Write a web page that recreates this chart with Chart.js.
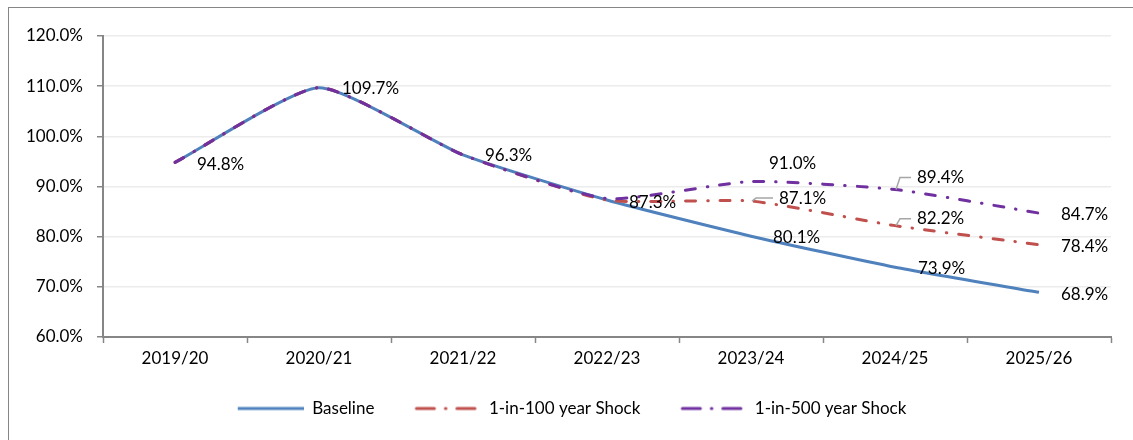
<!DOCTYPE html>
<html>
<head>
<meta charset="utf-8">
<title>Scenario chart</title>
<script src="https://cdn.jsdelivr.net/npm/chart.js@4.4.0/dist/chart.umd.min.js"></script>
<style>
  html, body { margin: 0; padding: 0; background: #fff; overflow: hidden; }
  #frame {
    position: absolute; left: 8px; top: 7px;
    width: 1200px; height: 500px;
    border: 1px solid #868686;
  }
  #chart { position: absolute; left: 0; top: 0; }
</style>
</head>
<body>
<div id="frame"></div>
<canvas id="chart" width="1133" height="440"></canvas>
<script>
// Data
const YEARS = ['2019/20', '2020/21', '2021/22', '2022/23', '2023/24', '2024/25', '2025/26'];
const BASELINE = [94.8, 109.7, 96.3, 87.3, 80.1, 73.9, 68.9];
const SHOCK_100 = [94.8, 109.7, 96.3, 87.3, 87.1, 82.2, 78.4];
const SHOCK_500 = [94.8, 109.7, 96.3, 87.6, 91.0, 89.4, 84.7];
const Y_MIN = 60;
const Y_MAX = 120;
const Y_STEP = 10;

// Which points carry a value label, and where it sits relative to the point
// [index, dx, dy, leader]
const LABELS = [
  [[0, 22, 2], [1, 23, 1], [2, 22, 1], [3, 22, 2], [4, 22, 1], [5, 23, 1], [6, 22, 2.5]],
  [[4, 28, -3, true], [5, 22, -7, true], [6, 22, 2]],
  [[4, 18, -18], [5, 22, -12, true], [6, 22, 1.5]],
];

const FONT = 'Lato';
const FONT_SIZE = 17;
const AXIS_GREY = '#868686';
const DASH_DOT = [10, 12, 0.5, 12];
const SAMPLE_W = 66;
const SAMPLE_GAP = 8; // empty space in front of each legend sample

Chart.defaults.font.family = FONT;
Chart.defaults.font.size = FONT_SIZE;
Chart.defaults.color = '#000';

const pct = v => v.toFixed(1) + '%';

// Little canvases used as legend samples, so the dash pattern shows
function legendSample(color, dash) {
  const c = document.createElement('canvas');
  c.width = SAMPLE_W + SAMPLE_GAP;
  c.height = 6;
  const g = c.getContext('2d');
  g.strokeStyle = color;
  g.lineWidth = 3;
  g.lineCap = dash.length ? 'round' : 'butt';
  g.setLineDash(dash.length ? [18, 11, 0.5, 11] : []);
  g.beginPath();
  g.moveTo(SAMPLE_GAP + (dash.length ? 2 : 0), 3);
  g.lineTo(SAMPLE_GAP + SAMPLE_W, 3);
  g.stroke();
  return c;
}

// Draws the data labels (and the little grey leader lines)
const valueLabels = {
  id: 'valueLabels',
  afterDatasetsDraw(chart) {
    const ctx = chart.ctx;
    ctx.save();
    ctx.font = FONT_SIZE + 'px ' + FONT;
    ctx.textBaseline = 'middle';
    ctx.textAlign = 'left';
    chart.data.datasets.forEach((ds, di) => {
      const meta = chart.getDatasetMeta(di);
      LABELS[di].forEach(([i, dx, dy, leader]) => {
        const pt = meta.data[i];
        if (!pt) return;
        if (leader) {
          ctx.strokeStyle = '#a6a6a6';
          ctx.lineWidth = 1.5;
          ctx.setLineDash([]);
          ctx.beginPath();
          ctx.moveTo(pt.x + 1, pt.y);
          ctx.lineTo(pt.x + 5, pt.y + dy);
          ctx.lineTo(pt.x + dx - 6, pt.y + dy);
          ctx.stroke();
        }
        ctx.fillStyle = '#000';
        ctx.fillText(pct(ds.data[i]), pt.x + dx, pt.y + dy);
      });
    });
    ctx.restore();
  }
};

function lineSet(label, data, color, dash, order) {
  return {
    label,
    data,
    borderColor: color,
    backgroundColor: color,
    borderWidth: 3,
    borderDash: dash,
    borderCapStyle: dash.length ? 'round' : 'butt',
    pointRadius: 0,
    tension: 0.18,
    fill: false,
    order,
    sample: legendSample(color, dash),
  };
}

new Chart(document.getElementById('chart'), {
  type: 'line',
  data: {
    labels: YEARS,
    datasets: [
      lineSet('Baseline', BASELINE, '#4f81bd', [], 3),
      lineSet('1-in-100 year Shock', SHOCK_100, '#c0504d', DASH_DOT, 2),
      lineSet('1-in-500 year Shock', SHOCK_500, '#7030a0', DASH_DOT, 1),
    ]
  },
  options: {
    responsive: false,
    animation: false,
    layout: { padding: { top: 36, right: 22, left: 25, bottom: 13 } },
    plugins: {
      tooltip: { enabled: false },
      legend: {
        position: 'bottom',
        labels: {
          usePointStyle: true,
          pointStyleWidth: SAMPLE_W + SAMPLE_GAP,
          padding: 32,
          font: { size: FONT_SIZE },
          color: '#000',
          sort: (a, b) => a.datasetIndex - b.datasetIndex,
          generateLabels(chart) {
            const items = Chart.defaults.plugins.legend.labels.generateLabels(chart);
            items.forEach(it => { it.pointStyle = chart.data.datasets[it.datasetIndex].sample; });
            return items;
          }
        }
      }
    },
    scales: {
      x: {
        offset: true,
        grid: {
          offset: true,
          drawOnChartArea: false,
          tickColor: AXIS_GREY,
          tickLength: 6,
          tickWidth: 1.5,
        },
        border: { color: AXIS_GREY, width: 2 },
        ticks: { padding: 5, font: { size: FONT_SIZE }, color: '#000', maxRotation: 0 },
        afterFit: s => { s.height = 31; },
      },
      y: {
        min: Y_MIN,
        max: Y_MAX,
        grid: {
          color: '#ececec',
          lineWidth: 1.5,
          tickColor: AXIS_GREY,
          tickLength: 6,
        },
        border: { color: AXIS_GREY, width: 2 },
        ticks: {
          stepSize: Y_STEP,
          padding: 14,
          font: { size: FONT_SIZE },
          color: '#000',
          callback: v => pct(v),
        },
        afterFit: s => { s.width = 78; },
      }
    }
  },
  plugins: [valueLabels]
});
</script>
</body>
</html>
